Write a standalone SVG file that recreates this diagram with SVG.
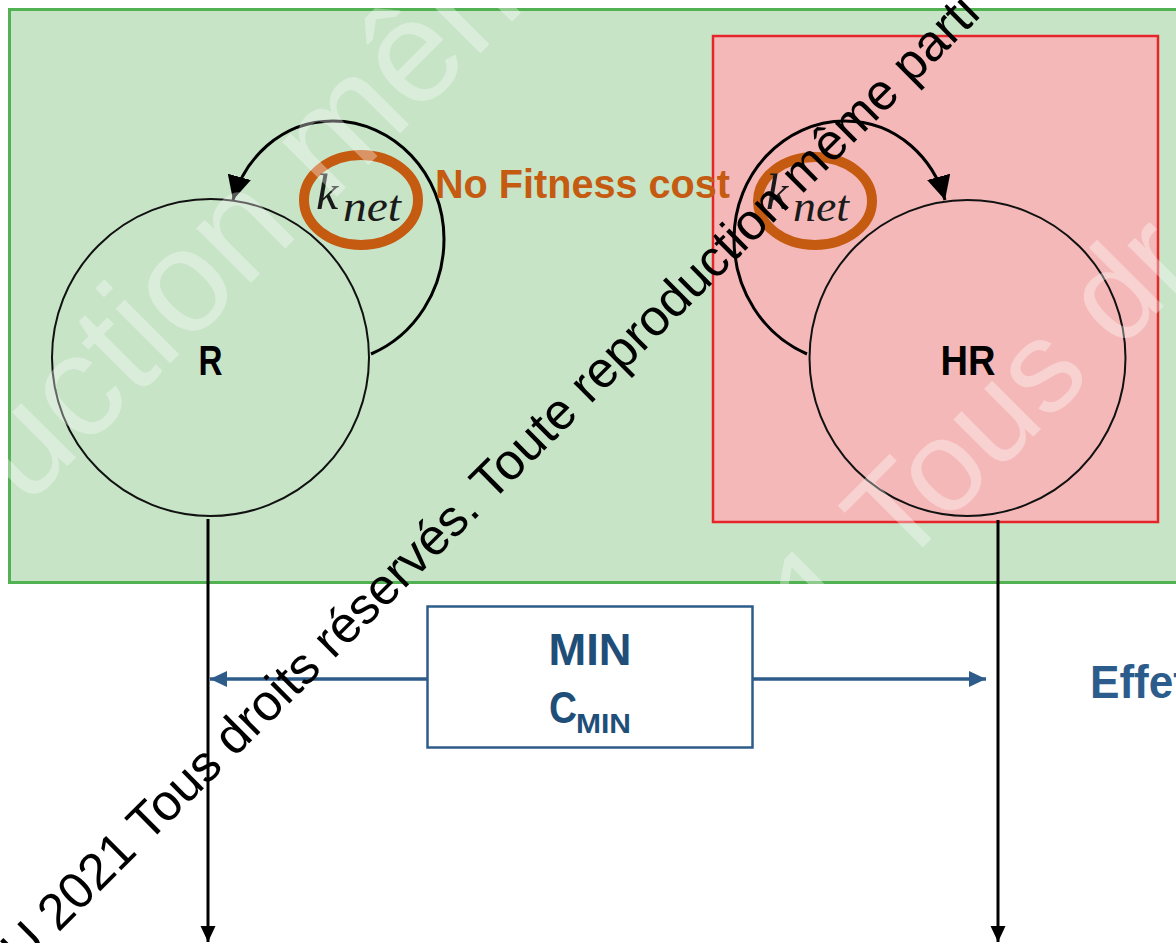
<svg xmlns="http://www.w3.org/2000/svg" width="1176" height="943" viewBox="0 0 1176 943">
<style>
.node{fill:none;stroke:#111;stroke-width:2}
.lbl{font-family:"Liberation Sans",Arial,sans-serif;font-weight:bold;fill:#000}
.blk{fill:none;stroke:#000;stroke-width:3}
.blu{fill:none;stroke:#2E5C8A;stroke-width:3.5}
.math{font-family:"Liberation Serif","Times New Roman",serif;font-style:italic;fill:#1a1a1a}
.ring{fill:none;stroke:#C55A11;stroke-width:10}
.wm{font-family:"Liberation Sans",Arial,sans-serif}
</style>
<defs>
<marker id="ahLoop" markerUnits="userSpaceOnUse" markerWidth="24" markerHeight="24" refX="22" refY="11" orient="auto" viewBox="0 0 22 22"><path d="M0,0 L22,11 L0,22 z" fill="#000"/></marker>
<marker id="ahDown" markerUnits="userSpaceOnUse" markerWidth="16" markerHeight="16" refX="16" refY="7.5" orient="auto" viewBox="0 0 16 15"><path d="M0,0 L16,7.5 L0,15 z" fill="#000"/></marker>
<marker id="ahBlue" markerUnits="userSpaceOnUse" markerWidth="17" markerHeight="16" refX="16" refY="7.5" orient="auto" viewBox="0 0 16 15"><path d="M0,0 L16,7.5 L0,15 z" fill="#2E5C8A"/></marker>
</defs>
<rect width="1176" height="943" fill="#fff"/>
<g id="area-no-cost">
<rect x="9.5" y="9.5" width="1180" height="573" fill="#C7E4C7" stroke="#52B152" stroke-width="3"/>
</g>
<g id="area-cost">
<rect x="713" y="36" width="445" height="486" fill="#F5B8B8" stroke="#E5252A" stroke-width="2.5"/>
</g>
<g id="node-R">
<circle cx="210.5" cy="357.5" r="158.5" class="node"/>
<text x="210.5" y="375" font-size="42" text-anchor="middle" textLength="24" lengthAdjust="spacingAndGlyphs" class="lbl">R</text>
</g>
<g id="node-HR">
<circle cx="967.5" cy="358" r="158" class="node"/>
<text x="968" y="375" font-size="42" text-anchor="middle" textLength="55" lengthAdjust="spacingAndGlyphs" class="lbl">HR</text>
</g>
<g id="connectors">
<path d="M371,354 C415,335 444,290 444,239 C444,174 394,121 333,121 C280,121 244,160 233,200" class="blk" stroke-width="2.5" marker-end="url(#ahLoop)"/>
<path d="M807,354 C763,335 734,290 734,239 C734,174 784,121 845,121 C898,121 934,160 945,200" class="blk" stroke-width="2.5" marker-end="url(#ahLoop)"/>
<path d="M208,519 L208,942" class="blk" marker-end="url(#ahDown)"/>
<path d="M998,520 L998,942" class="blk" marker-end="url(#ahDown)"/>
<path d="M427,679 L210,679" class="blu" marker-end="url(#ahBlue)"/>
<path d="M753,679 L986,679" class="blu" marker-end="url(#ahBlue)"/>
</g>
<g id="rate-R">
<ellipse cx="361" cy="200" rx="57" ry="45" class="ring"/>
<text x="316" y="209" font-size="50" class="math">k</text>
<text x="343" y="221" font-size="44" textLength="58" lengthAdjust="spacingAndGlyphs" class="math">net</text>
</g>
<g id="rate-HR">
<ellipse cx="815" cy="201" rx="57" ry="44" class="ring"/>
<text x="766" y="209" font-size="50" class="math">k</text>
<text x="793" y="221" font-size="44" textLength="56" lengthAdjust="spacingAndGlyphs" class="math">net</text>
</g>
<g id="label-fitness">
<text x="435" y="198" font-size="40" textLength="295" lengthAdjust="spacingAndGlyphs" class="lbl" style="fill:#C55A11">No Fitness cost</text>
</g>
<g id="node-MIN">
<rect x="427.5" y="606.5" width="325" height="141" fill="#fff" stroke="#2E5C8A" stroke-width="2.5"/>
<text x="590" y="665" font-size="44" text-anchor="middle" textLength="83" lengthAdjust="spacingAndGlyphs" class="lbl" style="fill:#1F4E79">MIN</text>
<text x="549" y="723" font-size="44" textLength="28" lengthAdjust="spacingAndGlyphs" class="lbl" style="fill:#1F4E79">C</text>
<text x="576" y="733" font-size="28" textLength="55" lengthAdjust="spacingAndGlyphs" class="lbl" style="fill:#1F4E79">MIN</text>
</g>
<g id="label-effet">
<text x="1090" y="698" font-size="46" textLength="98" lengthAdjust="spacingAndGlyphs" class="lbl" style="fill:#2C5C8C">Effet</text>
</g>
<g id="watermark">
<text transform="translate(25.6 508) rotate(-45)" font-size="146" class="wm" fill="#fff" fill-opacity="0.35">uction mêm</text>
<text transform="translate(824 646) rotate(-45)" font-size="130" class="wm" fill="#fff" fill-opacity="0.35">1 Tous dr</text>
<text transform="translate(22 969) rotate(-44.8)" font-size="51" class="wm" fill="#000">U 2021 Tous droits réservés. Toute reproduction même parti</text>
</g>
</svg>
